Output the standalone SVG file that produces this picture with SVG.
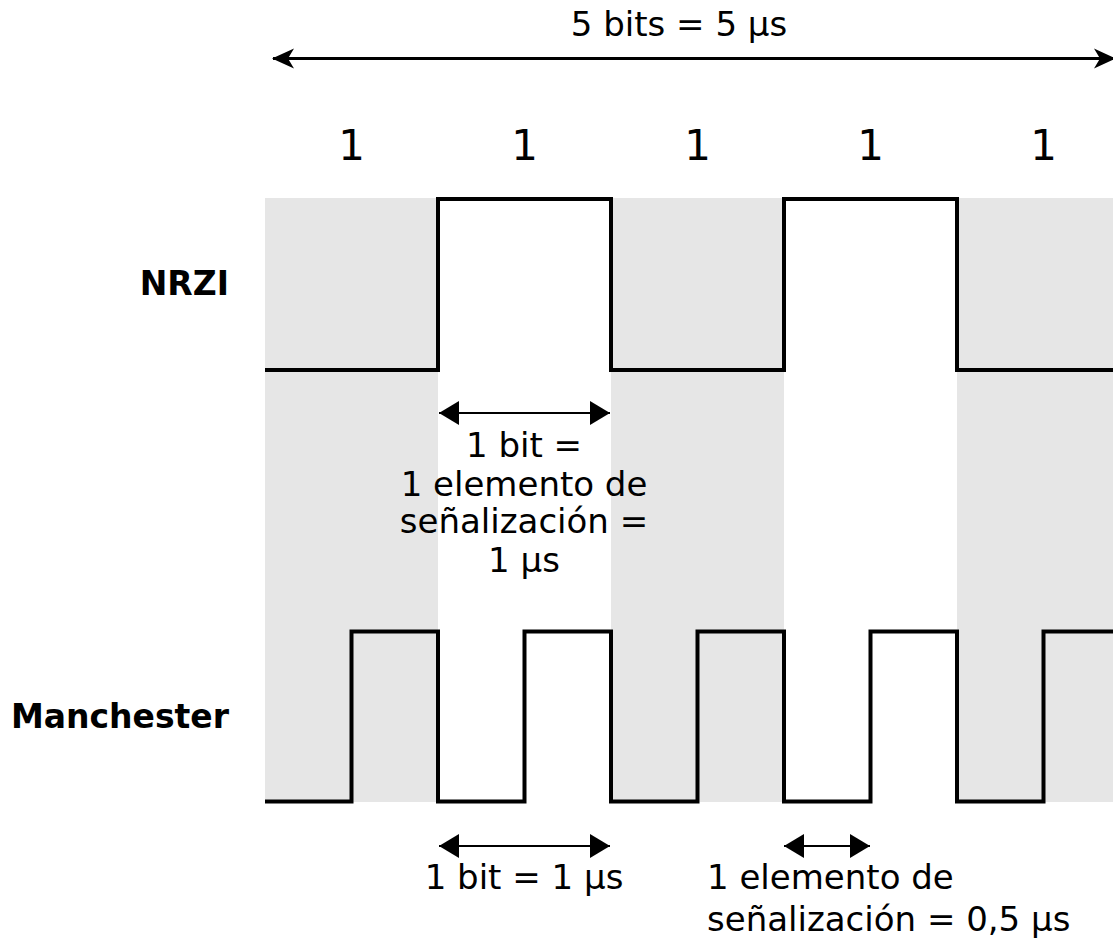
<svg xmlns="http://www.w3.org/2000/svg" width="1113" height="939" viewBox="0 0 1113 939">
  <style>
    .t { font-family: "DejaVu Sans", Verdana, sans-serif; font-size: 34px; fill: #000; }
    .big { font-size: 42px; }
    .b { font-weight: bold; font-size: 33px; }
    .band { fill: #e6e6e6; }
    .wave { fill: none; stroke: #000; stroke-width: 4; stroke-linejoin: miter; }
    .dim { fill: none; stroke: #000; stroke-width: 2; }
    .dimTop { fill: none; stroke: #000; stroke-width: 3; }
  </style>
  <defs>
    <marker id="blk" markerWidth="20" markerHeight="24" refX="20" refY="12" orient="auto-start-reverse" markerUnits="userSpaceOnUse">
      <path d="M0,0 L20,12 L0,24 Z" fill="#000"/>
    </marker>
    <marker id="cls" markerWidth="22" markerHeight="22" refX="21" refY="11" orient="auto-start-reverse" markerUnits="userSpaceOnUse">
      <path d="M0,1 L22,11 L0,21 L6,11 Z" fill="#000"/>
    </marker>
  </defs>

  <g id="bands">
    <rect class="band" x="265" y="198" width="173" height="604"/>
    <rect class="band" x="611" y="198" width="173" height="604"/>
    <rect class="band" x="957" y="198" width="156" height="604"/>
  </g>

  <g id="bit-labels">
    <text class="t big" x="351.5" y="160" text-anchor="middle">1</text>
    <text class="t big" x="524.5" y="160" text-anchor="middle">1</text>
    <text class="t big" x="697.5" y="160" text-anchor="middle">1</text>
    <text class="t big" x="870.5" y="160" text-anchor="middle">1</text>
    <text class="t big" x="1043.5" y="160" text-anchor="middle">1</text>
  </g>

  <g id="nrzi">
    <text class="t b" x="229" y="295" text-anchor="end">NRZI</text>
    <path class="wave" d="M265,370 H438 V199 H611 V370 H784 V199 H957 V370 H1113"/>
  </g>

  <g id="manchester">
    <text class="t b" x="229" y="728" text-anchor="end">Manchester</text>
    <path class="wave" d="M265,801.5 H351.5 V631.5 H438 V801.5 H524.5 V631.5 H611 V801.5 H697.5 V631.5 H784 V801.5 H870.5 V631.5 H957 V801.5 H1043.5 V631.5 H1113"/>
  </g>

  <g id="connectors">
    <line class="dimTop" x1="273" y1="58.5" x2="1115" y2="58.5" marker-start="url(#cls)" marker-end="url(#cls)"/>
    <line class="dim" x1="439" y1="413" x2="610" y2="413" marker-start="url(#blk)" marker-end="url(#blk)"/>
    <line class="dim" x1="439" y1="846" x2="610" y2="846" marker-start="url(#blk)" marker-end="url(#blk)"/>
    <line class="dim" x1="784" y1="846" x2="870" y2="846" marker-start="url(#blk)" marker-end="url(#blk)"/>
  </g>

  <g id="label-total">
    <text class="t" x="679" y="36" text-anchor="middle">5 bits = 5 μs</text>
  </g>

  <g id="label-nrzi-bit">
    <text class="t" x="524" y="457" text-anchor="middle">1 bit =</text>
    <text class="t" x="524" y="496" text-anchor="middle">1 elemento de</text>
    <text class="t" x="524" y="533" text-anchor="middle">señalización =</text>
    <text class="t" x="524" y="572" text-anchor="middle">1 μs</text>
  </g>

  <g id="label-man-bit">
    <text class="t" x="524" y="889" text-anchor="middle">1 bit = 1 μs</text>
  </g>

  <g id="label-man-elem">
    <text class="t" x="707" y="889">1 elemento de</text>
    <text class="t" x="707" y="931">señalización = 0,5 μs</text>
  </g>
</svg>
